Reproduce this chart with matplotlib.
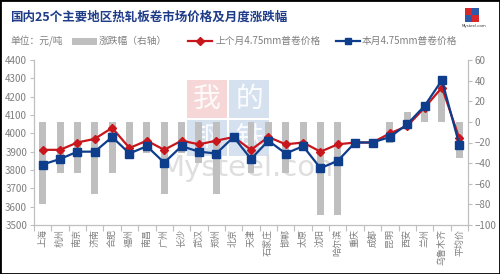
import matplotlib
matplotlib.use("Agg")
import matplotlib.pyplot as plt
from matplotlib.lines import Line2D
from matplotlib.patches import Rectangle
import numpy as np

plt.rcParams['font.family'] = ['Noto Sans CJK SC', 'DejaVu Sans']

cities = ["上海", "杭州", "南京", "济南", "合肥", "福州", "南昌", "广州", "长沙", "武汉",
          "郑州", "北京", "天津", "石家庄", "邯郸", "太原", "沈阳", "哈尔滨", "重庆", "成都",
          "昆明", "西安", "兰州", "乌鲁木齐", "平均价"]
last_month = [3910, 3910, 3950, 3970, 4030, 3920, 3960, 3910, 3960, 3940,
              3960, 3980, 3910, 3980, 3940, 3950, 3900, 3940, 3950, 3950,
              4000, 4040, 4140, 4250, 3973]
this_month = [3830, 3860, 3900, 3900, 3980, 3890, 3930, 3840, 3930, 3900,
              3890, 3980, 3860, 3960, 3890, 3930, 3810, 3850, 3950, 3950,
              3980, 4050, 4150, 4290, 3938]
change = [-80, -50, -50, -70, -50, -30, -30, -70, -30, -40,
          -70, 0, -50, -20, -50, -20, -90, -90, 0, 0,
          -20, 10, 10, 40, -35]
left_ticks = [3500, 3600, 3700, 3800, 3900, 4000, 4100, 4200, 4300, 4400]
right_ticks = [-100, -80, -60, -40, -20, 0, 20, 40, 60]

title = "国内25个主要地区热轧板卷市场价格及月度涨跌幅"
unit = "单位：元/吨"
lbl_bar = "涨跌幅（右轴）"
lbl_last = "上个月4.75mm普卷价格"
lbl_this = "本月4.75mm普卷价格"

RED = "#C8161D"
BLUE = "#0E3D8C"
GRAY_BAR = "#BFBFBF"
TXT = "#7F7F7F"
AX = "#BFBFBF"

W, H = 500, 274
fig = plt.figure(figsize=(W / 100, H / 100), dpi=100)
fig.patch.set_facecolor("white")

def fx(px):
    return px / W

def fy(py):
    return 1 - py / H

ax = fig.add_axes([fx(34), fy(225), fx(468) - fx(34), fy(60) - fy(225)])
ax2 = ax.twinx()
ax.set_zorder(ax2.get_zorder() + 1)
ax.patch.set_visible(False)
ax2.patch.set_visible(False)

x = np.arange(len(cities))

# watermark
wm_boxes = [(187, 80, 40, 38, "#F3C9C9", "我"), (229, 80, 40, 38, "#C9D7EC", "的"),
            (187, 120, 40, 36, "#C9D7EC", "钢"), (229, 120, 40, 36, "#C9D7EC", "铁")]
for bx, by, bw, bh, col, ch in wm_boxes:
    ax2.add_patch(Rectangle((fx(bx), fy(by + bh)), fx(bw), bh / H, transform=fig.transFigure,
                            facecolor=col, edgecolor="none", alpha=0.75, zorder=0))
    ax2.text(fx(bx + bw / 2), fy(by + bh / 2), ch, transform=fig.transFigure, ha="center",
             va="center", fontsize=20, color="white", alpha=0.9, zorder=0.5)
ax2.text(fx(251), fy(168), "Mysteel.com", transform=fig.transFigure, ha="center", va="center",
         fontsize=21, color="#D9D9D9", alpha=0.85, zorder=0.6, family="DejaVu Sans")

ax2.bar(x, change, width=0.4, color=GRAY_BAR, zorder=2)
ax2.set_ylim(-100, 60)
ax2.set_yticks(right_ticks)

ax.plot(x, last_month, color=RED, lw=1.6, marker="D", markersize=4, zorder=3)
ax.plot(x, this_month, color=BLUE, lw=1.6, marker="s", markersize=5.5, zorder=4)
ax.set_ylim(3500, 4400)
ax.set_yticks(left_ticks)
ax.set_xlim(-0.5, len(cities) - 0.5)

ax.set_xticks(x)
ax.set_xticklabels(cities, rotation=90, fontsize=6.5, color=TXT, va="top")
ax.tick_params(axis="x", length=0, pad=3)
ax.set_xticks(np.arange(-0.5, len(cities), 1), minor=True)
ax.tick_params(axis="x", which="minor", length=4, color=AX, width=0.8)

ax.tick_params(axis="y", length=3, color=AX, labelsize=7, labelcolor=TXT, pad=2)
ax2.tick_params(axis="y", length=3, color=AX, labelsize=7, labelcolor=TXT, pad=2)

for a in (ax, ax2):
    for s in a.spines.values():
        s.set_color(AX)
        s.set_linewidth(0.8)
    a.spines["top"].set_visible(False)

# title
fig.text(fx(10), fy(17), title, fontsize=9, fontweight="bold", color="#1F3C88",
         ha="left", va="center")

# legend row
ly = fy(41)
fig.text(fx(10), ly, unit, fontsize=7, color=TXT, ha="left", va="center")
fig.add_artist(Rectangle((fx(72), fy(45)), fx(25), 7 / H, transform=fig.transFigure,
                         facecolor=GRAY_BAR, edgecolor="none"))
fig.text(fx(99), ly, lbl_bar, fontsize=7, color=TXT, ha="left", va="center")
fig.add_artist(Line2D([fx(188), fx(212)], [ly, ly], transform=fig.transFigure, color=RED, lw=1.6))
fig.add_artist(Line2D([fx(200)], [ly], transform=fig.transFigure, color=RED, marker="D",
                      markersize=4, lw=0))
fig.text(fx(215), ly, lbl_last, fontsize=7, color=TXT, ha="left", va="center")
fig.add_artist(Line2D([fx(336), fx(360)], [ly, ly], transform=fig.transFigure, color=BLUE, lw=1.6))
fig.add_artist(Line2D([fx(348)], [ly], transform=fig.transFigure, color=BLUE, marker="s",
                      markersize=5, lw=0))
fig.text(fx(362), ly, lbl_this, fontsize=7, color=TXT, ha="left", va="center")

# logo
for (lx, lyy, col) in [(465, 8, "#D9262B"), (472, 8, "#2B5BA8"), (465, 15, "#2B5BA8"), (472, 15, "#D9262B")]:
    fig.add_artist(Rectangle((fx(lx), fy(lyy + 7)), fx(7), 7 / H, transform=fig.transFigure,
                             facecolor=col, edgecolor="none"))
fig.text(fx(474), fy(26), "Mysteel.com", fontsize=2.8, color="#333333", ha="center",
         va="center", family="DejaVu Sans")

# frame
fig.add_artist(Rectangle((0, 0), 1, 1, transform=fig.transFigure, facecolor="none",
                         edgecolor="black", lw=2))

fig.savefig("out.png", dpi=100)
